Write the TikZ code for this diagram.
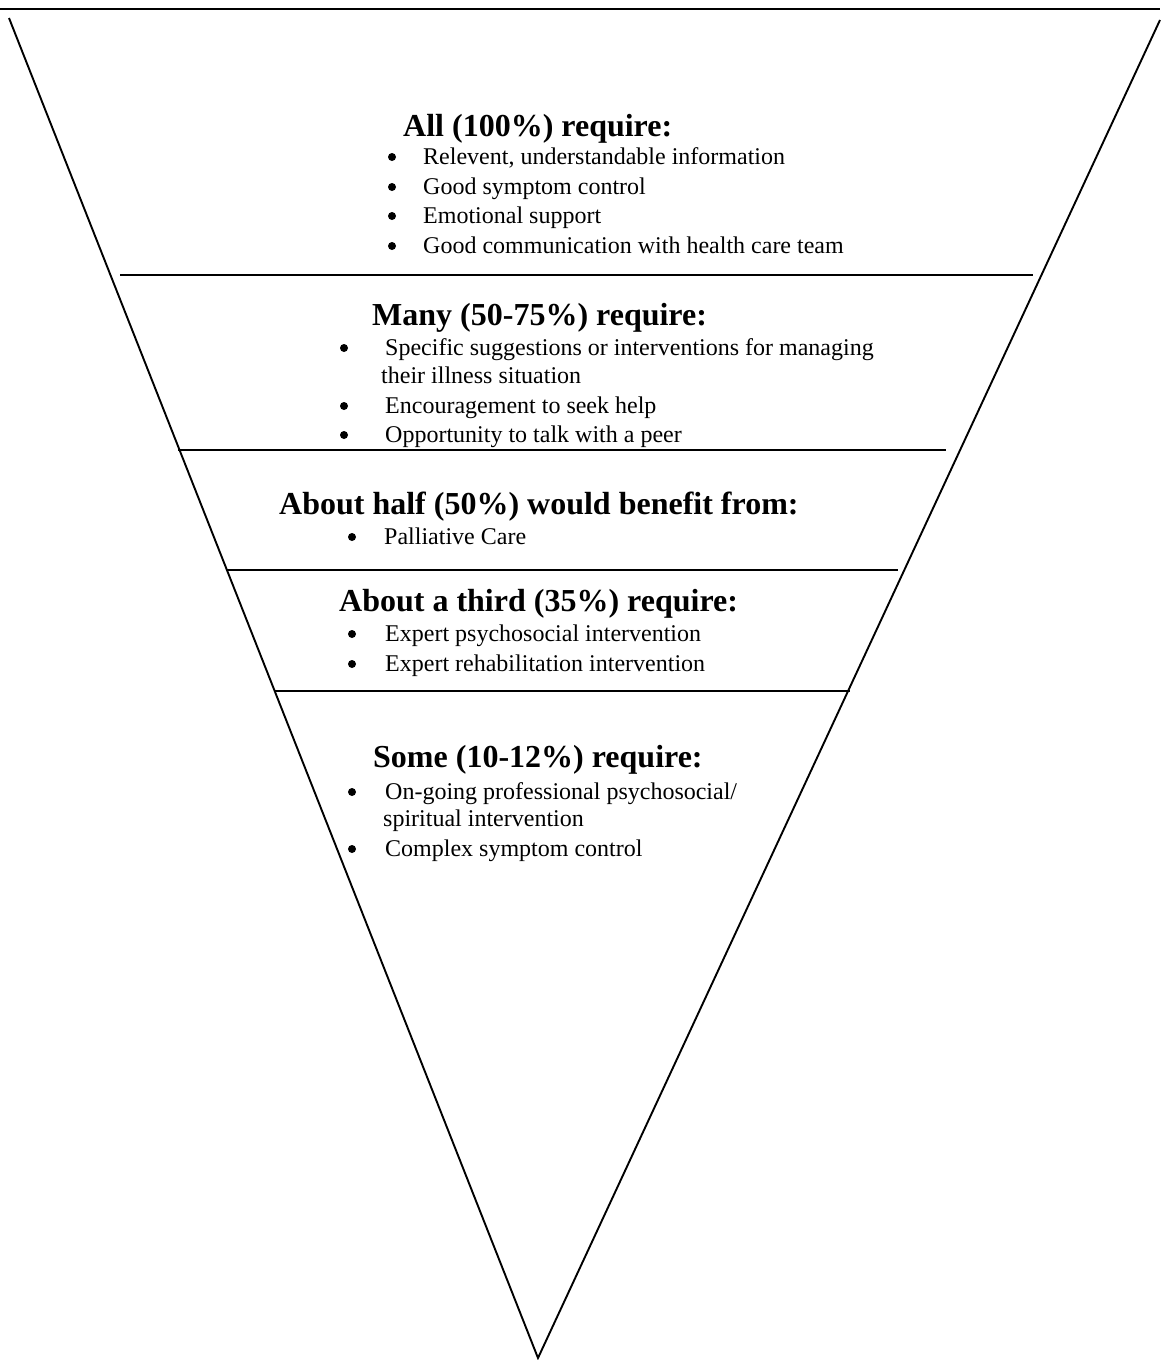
\documentclass[tikz,border=0pt]{standalone}
\usepackage{fontspec}
\setmainfont{Liberation Serif}
\begin{document}
\begin{tikzpicture}[x=1pt,y=-1pt,
  head/.style={anchor=base west,inner sep=0pt,font=\fontsize{32}{38}\selectfont\bfseries},
  item/.style={anchor=base west,inner sep=0pt,font=\fontsize{24}{29}\selectfont},
  bul/.style={circle,fill=black,inner sep=0pt,minimum size=8pt,yshift=7pt},
  edgeline/.style={line width=1.9pt},
  sepline/.style={line width=1.9pt},
  topline/.style={line width=2.2pt}]
\useasboundingbox[fill=white] (0,0) rectangle (1160,1360);
% frame of the funnel
\coordinate (TL) at (0,9);
\coordinate (TR) at (1160,9);
\coordinate (A) at (9,18);
\coordinate (B) at (1160,20);
\coordinate (C) at (538,1358);
\draw[topline] (TL) -- (TR);
\draw[edgeline] (A) -- (C) -- (B);
% separators
\coordinate (s1a) at (120,275); \coordinate (s1b) at (1033,275);
\coordinate (s2a) at (178,450); \coordinate (s2b) at (946,450);
\coordinate (s3a) at (226,570); \coordinate (s3b) at (898,570);
\coordinate (s4a) at (274,691); \coordinate (s4b) at (850,691);
\draw[sepline] (s1a) -- (s1b);
\draw[sepline] (s2a) -- (s2b);
\draw[sepline] (s3a) -- (s3b);
\draw[sepline] (s4a) -- (s4b);
% block 1
\node[head] (h1) at (403,136) {All (100\%) require:};
\node[bul] (b11) at (392,164) {};
\node[item] (t11) at (423,164) {Relevent, understandable information};
\node[bul] (b12) at (392,194) {};
\node[item] (t12) at (423,194) {Good symptom control};
\node[bul] (b13) at (392,223) {};
\node[item] (t13) at (423,223) {Emotional support};
\node[bul] (b14) at (392,253) {};
\node[item] (t14) at (423,253) {Good communication with health care team};
% block 2
\node[head] (h2) at (372,325) {Many (50-75\%) require:};
\node[bul] (b21) at (344,355) {};
\node[item] (t21) at (385,355) {Specific suggestions or interventions for managing};
\node[item] (t21b) at (381,383) {their illness situation};
\node[bul] (b22) at (344,413) {};
\node[item] (t22) at (385,413) {Encouragement to seek help};
\node[bul] (b23) at (344,442) {};
\node[item] (t23) at (385,442) {Opportunity to talk with a peer};
% block 3
\node[head] (h3) at (279,514) {About half (50\%) would benefit from:};
\node[bul] (b31) at (352,544) {};
\node[item] (t31) at (384,544) {Palliative Care};
% block 4
\node[head] (h4) at (339,611) {About a third (35\%) require:};
\node[bul] (b41) at (352,641) {};
\node[item] (t41) at (385,641) {Expert psychosocial intervention};
\node[bul] (b42) at (352,671) {};
\node[item] (t42) at (385,671) {Expert rehabilitation intervention};
% block 5
\node[head] (h5) at (373,767) {Some (10-12\%) require:};
\node[bul] (b51) at (352,799) {};
\node[item] (t51) at (385,799) {On-going professional psychosocial/};
\node[item] (t51b) at (383,826) {spiritual intervention};
\node[bul] (b52) at (352,856) {};
\node[item] (t52) at (385,856) {Complex symptom control};
\end{tikzpicture}
\end{document}
